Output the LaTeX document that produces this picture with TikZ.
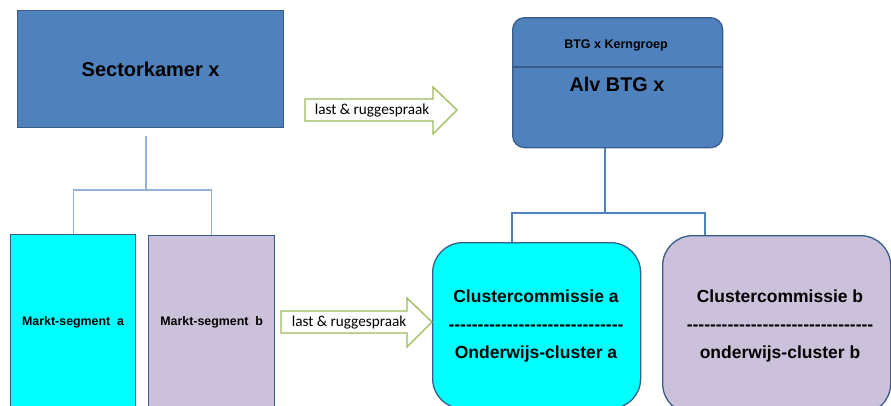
\documentclass[tikz,border=0pt]{standalone}
\usepackage{fontspec}
\setmainfont{Liberation Sans}
\newfontfamily\calfont{Carlito}
\definecolor{boxblue}{HTML}{4F81BD}
\definecolor{edgeblue}{HTML}{385D8A}
\definecolor{lightline}{HTML}{95B3D7}
\definecolor{lilac}{HTML}{CCC1DA}
\definecolor{aqua}{HTML}{00FFFF}
\definecolor{arrgreen}{HTML}{9BBB59}
\newcommand\hyphrow[1]{\foreach \i in {1,...,#1}{-\kern0pt}}
\tikzset{
  box/.style={draw=edgeblue, line width=1.3pt, anchor=north west, inner sep=0pt, font=\bfseries},
  treeL/.style={draw=lightline, line width=1.3pt},
  treeR/.style={draw=boxblue, line width=2pt},
  blockarrow/.style={draw=arrgreen, line width=1.3pt, fill=white, line join=miter},
  arrtext/.style={font=\calfont\fontsize{15.2}{17}\selectfont, inner sep=0pt},
}
\begin{document}
\begin{tikzpicture}[x=1pt,y=-1pt]
\useasboundingbox (0,0) rectangle (891,405);
\clip (0,0) rectangle (891,405);

% Sectorkamer
\node[box, fill=boxblue, minimum width=266pt, minimum height=117pt,
      font=\bfseries\fontsize{20}{22}\selectfont, text depth=0pt] (sk) at (17,10) {Sectorkamer x};

% Markt segments
\node[box, fill=aqua, minimum width=125pt, minimum height=175pt,
      font=\bfseries\fontsize{12.4}{14}\selectfont] (ma) at (10,234) {Markt-segment\ \ a};
\node[box, fill=lilac, minimum width=126pt, minimum height=173pt,
      font=\bfseries\fontsize{12.4}{14}\selectfont] (mb) at (148,235) {Markt-segment\ \ b};

% left tree
\coordinate (jl) at (146,190);
\draw[treeL] (jl |- 0,136) -- (jl);
\draw[treeL] (ma.north) -- (ma.north |- jl) -- (mb.north |- jl) -- (mb.north);

% BTG box
\node[box, fill=boxblue, rounded corners=12pt, minimum width=210pt, minimum height=130pt] (btg) at (512,17) {};
\coordinate (div) at (0,67);
\draw[edgeblue, line width=1.3pt] (btg.west |- div) -- (btg.east |- div);
\node[font=\bfseries\fontsize{12.5}{14}\selectfont] (kern) at (616,45) {BTG x Kerngroep};
\node[font=\bfseries\fontsize{19.8}{22}\selectfont] (alv) at (617,84) {Alv BTG x};

% Cluster boxes
\node[box, fill=aqua, rounded corners=30pt, minimum width=208pt, minimum height=166pt] (ca) at (432,242) {};
\node[box, fill=lilac, rounded corners=30pt, minimum width=228pt, minimum height=178pt] (cb) at (662,235) {};
\node[align=center, font=\bfseries\fontsize{17.5}{28}\selectfont, inner sep=0pt] (cat) at (536,326)
  {Clustercommissie a\\\hyphrow{30}\\Onderwijs-cluster a};
\node[align=center, font=\bfseries\fontsize{17.5}{28}\selectfont, inner sep=0pt] (cbt) at (780,326)
  {Clustercommissie b\\\hyphrow{32}\\onderwijs-cluster b};

% right tree
\coordinate (jr) at (605,213);
\coordinate (ra) at (512,213);
\coordinate (rb) at (705,213);
\draw[treeR] (btg.south -| jr) -- (jr);
\draw[treeR] (ca.north -| ra) -- (ra) -- (rb) -- (cb.north -| rb);

% block arrows
\draw[blockarrow] (305,99) -- (433,99) -- (433,87) -- (457,110) -- (433,134) -- (433,121) -- (305,121) -- cycle;
\node[arrtext] (a1) at (372,111) {last \& ruggespraak};
\draw[blockarrow] (281,311) -- (407,311) -- (407,298) -- (432,322) -- (407,347) -- (407,333) -- (281,333) -- cycle;
\node[arrtext] (a2) at (349,323) {last \& ruggespraak};
\end{tikzpicture}
\end{document}
